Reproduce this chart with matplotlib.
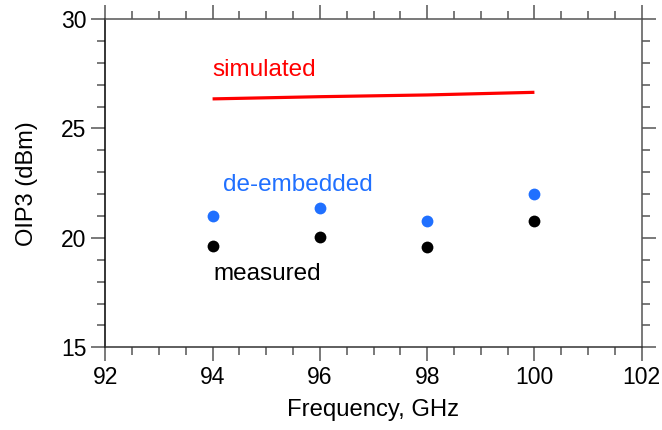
import matplotlib
matplotlib.use('Agg')
import matplotlib.pyplot as plt
from matplotlib.ticker import MultipleLocator

plt.rcParams['font.family'] = ['Liberation Sans', 'DejaVu Sans']

# Datos
freq = [94, 96, 98, 100]
simulado = [26.35, 26.45, 26.53, 26.65]
de_embedded = [21.0, 21.35, 20.78, 22.0]
medido = [19.64, 20.03, 19.57, 20.78]

azul = '#2070ff'

fig = plt.figure(figsize=(6.62, 4.30), dpi=100)
ax = fig.add_axes([105.3 / 662, 1 - 347.3 / 430, (641.7 - 105.3) / 662, (347.3 - 19) / 430])

ax.plot(freq, simulado, color='red', lw=2.3, solid_capstyle='butt')
ax.plot(freq, de_embedded, 'o', color=azul, ms=8.5, mec='none')
ax.plot(freq, medido, 'o', color='black', ms=8.5, mec='none')

ax.text(94.0, 27.67, 'simulated', color='red', fontsize=17.5, va='center', ha='left')
ax.text(94.2, 22.42, 'de-embedded', color=azul, fontsize=17.5, va='center', ha='left')
ax.text(94.02, 18.35, 'measured', color='black', fontsize=17.5, va='center', ha='left')

ax.set_xlim(92, 102)
ax.set_ylim(15, 30)
ax.xaxis.set_major_locator(MultipleLocator(2))
ax.xaxis.set_minor_locator(MultipleLocator(0.5))
ax.yaxis.set_major_locator(MultipleLocator(5))
ax.yaxis.set_minor_locator(MultipleLocator(1))
ax.tick_params(which='both', direction='out', top=True, right=True, colors='#555555',
               labelcolor='black', labelsize=16.5)
ax.tick_params(which='major', length=10, width=1.1)
ax.tick_params(which='minor', length=5.5, width=1.1)
for lado in ax.spines.values():
    lado.set_color('#555555')
    lado.set_linewidth(1.1)
ax.spines['left'].set_color('black')
ax.spines['bottom'].set_color('#333333')

ax.set_xlabel('Frequency, GHz', fontsize=17.2)
ax.set_ylabel('OIP3 (dBm)', fontsize=17)
ax.xaxis.set_label_coords(0.5, -(410 - 347.3) / (347.3 - 19))
ax.yaxis.set_label_coords(-(105.3 - 27) / (641.7 - 105.3), 0.5)
ax.xaxis.label.set_va('center')
ax.yaxis.label.set_va('center')

fig.savefig('out.png', dpi=100)
